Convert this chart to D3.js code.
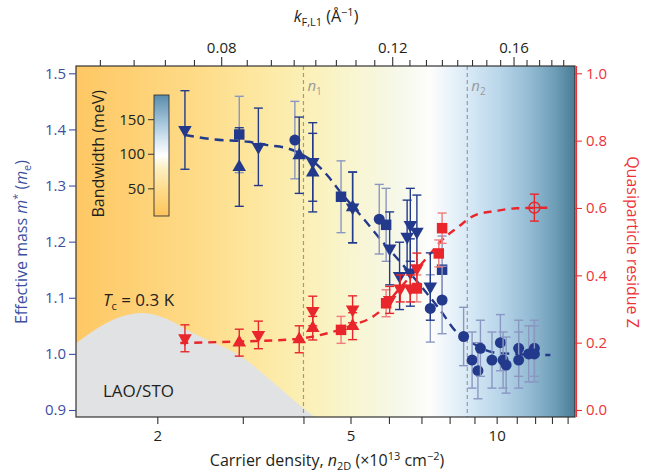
<!DOCTYPE html>
<html>
<head>
<meta charset="utf-8">
<script src="https://cdn.jsdelivr.net/npm/d3@7"></script>
<style>
  body { margin: 0; background: #fff; }
  svg { font-family: "Open Sans", sans-serif; }
</style>
</head>
<body>
<svg id="chart" width="650" height="472"></svg>
<script>
'use strict';
(function() {

    // ---- data ----
    // effective mass points: [n2D (1e13 cm^-2), m* (me), error]
    var massDown = [[2.28, 1.399, 0.07], [3.23, 1.369, 0.069], [4.18, 1.342, 0.07], [5.05, 1.261, 0.063],
        [6.02, 1.188, 0.065], [6.54, 1.209, 0.065], [6.64, 1.230, 0.065], [6.85, 1.218, 0.065],
        [6.31, 1.139, 0.06], [6.64, 1.145, 0.06], [7.30, 1.120, 0.06]];
    var massUp = [[2.95, 1.333, 0.07], [3.92, 1.354, 0.068], [4.18, 1.323, 0.07], [5.05, 1.261, 0.063]];
    var massSquare = [[2.95, 1.391, 0.068], [4.78, 1.280, 0.064], [5.92, 1.230, 0.065], [7.72, 1.150, 0.06]];
    var massCircle = [[3.84, 1.381, 0.069], [5.73, 1.240, 0.062], [7.30, 1.081, 0.06], [7.72, 1.096, 0.06],
        [8.55, 1.031, 0.052], [8.90, 0.989, 0.05], [9.15, 0.970, 0.05], [9.26, 1.010, 0.05],
        [9.78, 0.989, 0.05], [10.18, 1.020, 0.05], [10.31, 0.989, 0.05], [10.46, 0.980, 0.05],
        [11.10, 1.010, 0.05], [11.10, 0.989, 0.05], [11.64, 1.000, 0.05], [11.96, 1.010, 0.05],
        [11.96, 1.000, 0.05]];

    // quasiparticle residue points: [n2D, Z, error]
    var zDown = [[2.28, 0.213, 0.04], [3.23, 0.223, 0.041], [4.18, 0.294, 0.044], [5.05, 0.299, 0.04],
        [6.02, 0.327, 0.04], [6.33, 0.361, 0.04], [6.64, 0.361, 0.04], [6.85, 0.421, 0.045]];
    var zUp = [[2.95, 0.200, 0.04], [3.92, 0.210, 0.04], [4.18, 0.243, 0.035], [5.05, 0.249, 0.04]];
    var zSquare = [[4.78, 0.238, 0.04], [5.92, 0.317, 0.04], [6.85, 0.361, 0.04], [7.60, 0.465, 0.04],
        [7.72, 0.540, 0.045]];
    var zOpen = [[11.96, 0.601, 0.04]];

    // dashed guide curves
    var massFitN = [2.28, 2.63, 3.08, 3.37, 3.72, 4.0, 4.27, 4.50, 4.76, 5.28, 5.78, 6.33, 6.95, 7.65, 8.26, 8.96, 9.81, 10.78, 12.9];
    var massFitM = [1.390, 1.382, 1.378, 1.372, 1.366, 1.354, 1.337, 1.316, 1.289, 1.244, 1.203, 1.164, 1.123, 1.078, 1.039, 1.018, 1.003, 1.000, 0.998];
    var zFitN = [2.23, 2.87, 3.81, 4.48, 4.99, 5.68, 6.33, 7.23, 7.72, 8.29, 9.04, 9.95, 10.98, 13.0];
    var zFitZ = [0.199, 0.203, 0.210, 0.228, 0.249, 0.287, 0.363, 0.457, 0.505, 0.541, 0.579, 0.591, 0.599, 0.601];

    // superconducting dome outline (n2D, in left-axis units)
    var domeN = [1.36, 1.52, 1.68, 1.87, 2.07, 2.37, 3.0, 3.5, 4.0, 4.23];
    var domeM = [1.019, 1.048, 1.066, 1.073, 1.064, 1.037, 0.993, 0.946, 0.903, 0.887];

    // critical densities
    var nLines = [{ n: 4.0, sub: '1' }, { n: 8.7, sub: '2' }];

    // ticks
    var nTicks = [2, 3, 4, 5, 6, 7, 8, 9, 10, 11, 12, 13, 14];
    var nLabels = [2, 5, 10];
    var kTicks = d3.range(0.060, 0.1801, 0.005);
    var kLabels = [0.08, 0.12, 0.16];
    var massTicks = [0.9, 1.0, 1.1, 1.2, 1.3, 1.4, 1.5];
    var zTicks = [0, 0.2, 0.4, 0.6, 0.8, 1.0];
    var bwTicks = [50, 100, 150];

    // ---- layout ----
    var L = 76, R = 575, T = 66, B = 417;
    var blue = '#233a8c', blueLight = '#8a97c2', red = '#e8262b', redLight = '#f07b7b';
    var svg = d3.select('#chart');

    var x = d3.scaleLog().domain([1.36, 14.5]).range([L, R]);
    // n2D ~ kF^2, so a log scale in kF lines up with the log scale in n2D
    var xk = d3.scaleLog().domain([0.0567, 0.1851]).range([L, R]);
    var yM = d3.scaleLinear().domain([0.9, 1.5]).range([410, 73.3]);
    var yZ = d3.scaleLinear().domain([0, 1]).range([410, 73.3]);
    var yBw = d3.scaleLinear().domain([10, 185]).range([216, 95]);

    var defs = svg.append('defs');
    var bgStops = [[0, '#fec864'], [0.1, '#fecf72'], [0.25, '#fedc89'], [0.37, '#fde8a2'],
        [0.46, '#fbf0b6'], [0.55, '#f8f5cf'], [0.65, '#f6f8ea'], [0.71, '#fdfdfb'],
        [0.75, '#eaf3fa'], [0.79, '#d6e8f5'], [0.85, '#b8d5e9'], [0.91, '#93bbd3'],
        [0.96, '#6d9db7'], [1, '#4a7c94']];
    var bg = defs.append('linearGradient').attr('id', 'bg')
        .attr('x1', 0).attr('x2', 1).attr('y1', 0).attr('y2', 0);
    bgStops.forEach(function(s) {
        bg.append('stop').attr('offset', s[0]).attr('stop-color', s[1]);
    });
    var cbStops = [[0, '#fec35c'], [0.2, '#fed986'], [0.4, '#fdf0c3'], [0.5, '#ffffff'],
        [0.62, '#d9e8f2'], [0.78, '#a2c4d9'], [1, '#5a8bab']];
    var cb = defs.append('linearGradient').attr('id', 'cb')
        .attr('x1', 0).attr('x2', 0).attr('y1', 1).attr('y2', 0);
    cbStops.forEach(function(s) {
        cb.append('stop').attr('offset', s[0]).attr('stop-color', s[1]);
    });
    defs.append('clipPath').attr('id', 'clip').append('rect')
        .attr('x', L).attr('y', T).attr('width', R - L).attr('height', B - T);

    // background
    svg.append('rect').attr('x', L).attr('y', T).attr('width', R - L).attr('height', B - T)
        .attr('fill', 'url(#bg)');

    var plot = svg.append('g').attr('clip-path', 'url(#clip)');

    // dome
    var dome = d3.area()
        .x(function(d) { return x(d[0]); })
        .y0(B)
        .y1(function(d) { return yM(d[1]); })
        .curve(d3.curveMonotoneX);
    plot.append('path')
        .datum(domeN.map(function(n, i) { return [n, domeM[i]]; }))
        .attr('d', dome)
        .attr('fill', '#e1e2e4');

    // n1, n2
    nLines.forEach(function(d) {
        plot.append('line')
            .attr('x1', x(d.n)).attr('x2', x(d.n)).attr('y1', T).attr('y2', B)
            .attr('stroke', '#9a9a9a').attr('stroke-width', 1.2).attr('stroke-dasharray', '4,3');
        var t = svg.append('text').attr('x', x(d.n) + 4).attr('y', 91)
            .attr('fill', '#9a9a9a').style('font-size', '15px');
        t.append('tspan').attr('font-style', 'italic').text('n');
        t.append('tspan').attr('dy', 4).style('font-size', '10px').text(d.sub);
    });

    // guide curves
    var fitLine = function(ys) {
        return d3.line()
            .x(function(d) { return x(d[0]); })
            .y(function(d) { return ys(d[1]); })
            .curve(d3.curveMonotoneX);
    };
    plot.append('path')
        .datum(massFitN.map(function(n, i) { return [n, massFitM[i]]; }))
        .attr('d', fitLine(yM))
        .attr('fill', 'none').attr('stroke', blue).attr('stroke-width', 2.4)
        .attr('stroke-dasharray', '9,6');
    plot.append('path')
        .datum(zFitN.map(function(n, i) { return [n, zFitZ[i]]; }))
        .attr('d', fitLine(yZ))
        .attr('fill', 'none').attr('stroke', red).attr('stroke-width', 2.4)
        .attr('stroke-dasharray', '8,6');

    // points with error bars
    function drawSeries(data, ys, shape, color, barColor) {
        var g = plot.append('g');
        var pts = g.selectAll('g').data(data).enter().append('g');
        pts.append('line')
            .attr('x1', function(d) { return x(d[0]); })
            .attr('x2', function(d) { return x(d[0]); })
            .attr('y1', function(d) { return ys(d[1] - d[2]); })
            .attr('y2', function(d) { return ys(d[1] + d[2]); })
            .attr('stroke', barColor).attr('stroke-width', 1.4);
        [-1, 1].forEach(function(s) {
            pts.append('line')
                .attr('x1', function(d) { return x(d[0]) - 4.5; })
                .attr('x2', function(d) { return x(d[0]) + 4.5; })
                .attr('y1', function(d) { return ys(d[1] + s * d[2]); })
                .attr('y2', function(d) { return ys(d[1] + s * d[2]); })
                .attr('stroke', barColor).attr('stroke-width', 1.4);
        });
        if (shape === 'open') {
            pts.append('circle')
                .attr('cx', function(d) { return x(d[0]); })
                .attr('cy', function(d) { return ys(d[1]); })
                .attr('r', 5.5).attr('fill', 'none').attr('stroke', color).attr('stroke-width', 1.5);
            pts.append('line')
                .attr('x1', function(d) { return x(d[0]) - 5.5; })
                .attr('x2', function(d) { return x(d[0]) + 5.5; })
                .attr('y1', function(d) { return ys(d[1]); })
                .attr('y2', function(d) { return ys(d[1]); })
                .attr('stroke', color).attr('stroke-width', 1.5);
            return;
        }
        var sym = d3.symbol()
            .type(shape === 'square' ? d3.symbolSquare : shape === 'circle' ? d3.symbolCircle : d3.symbolTriangle)
            .size(shape === 'square' ? 110 : shape === 'circle' ? 95 : 80);
        pts.append('path')
            .attr('d', sym)
            .attr('transform', function(d) {
                return 'translate(' + x(d[0]) + ',' + ys(d[1]) + ')' + (shape === 'down' ? ' rotate(180)' : '');
            })
            .attr('fill', color);
    }

    drawSeries(massSquare, yM, 'square', blue, blueLight);
    drawSeries(massCircle, yM, 'circle', blue, blueLight);
    drawSeries(massUp, yM, 'up', blue, blue);
    drawSeries(massDown, yM, 'down', blue, blue);
    drawSeries(zSquare, yZ, 'square', red, redLight);
    drawSeries(zUp, yZ, 'up', red, red);
    drawSeries(zDown, yZ, 'down', red, red);
    drawSeries(zOpen, yZ, 'open', red, red);

    // labels inside plot
    var tc = svg.append('text').attr('x', 103).attr('y', 306).attr('fill', '#231f20')
        .style('font-size', '17px');
    tc.append('tspan').attr('font-style', 'italic').text('T');
    tc.append('tspan').attr('dy', 4).style('font-size', '11px').text('c');
    tc.append('tspan').attr('dy', -4).text(' = 0.3 K');
    svg.append('text').attr('x', 103).attr('y', 397).attr('fill', '#231f20')
        .style('font-size', '17px').text('LAO/STO');

    // colour bar
    svg.append('rect').attr('x', 154).attr('y', yBw(185)).attr('width', 15)
        .attr('height', yBw(10) - yBw(185))
        .attr('fill', 'url(#cb)').attr('stroke', '#333').attr('stroke-width', 0.9);
    var bwAxis = svg.append('g').attr('transform', 'translate(154,0)')
        .call(d3.axisLeft(yBw).tickValues(bwTicks).tickSize(6).tickPadding(3));
    bwAxis.select('.domain').remove();
    bwAxis.selectAll('line').attr('stroke', '#333');
    bwAxis.selectAll('text').attr('fill', '#231f20').style('font-size', '15px')
        .style('font-family', '"Open Sans", sans-serif');
    svg.append('text')
        .attr('transform', 'translate(104,' + yBw(100) + ') rotate(-90)')
        .attr('text-anchor', 'middle').attr('fill', '#231f20').style('font-size', '16px')
        .text('Bandwidth (meV)');

    // frame
    svg.append('rect').attr('x', L).attr('y', T).attr('width', R - L).attr('height', B - T)
        .attr('fill', 'none').attr('stroke', '#333').attr('stroke-width', 1.2);

    function styleAxis(g, color) {
        g.select('.domain').remove();
        g.selectAll('line').attr('stroke', color).attr('stroke-width', 1.1);
        g.selectAll('text').attr('fill', color).style('font-size', '15px')
            .style('font-family', '"Open Sans", sans-serif');
    }

    // bottom axis
    var bottom = svg.append('g').attr('transform', 'translate(0,' + B + ')')
        .call(d3.axisBottom(x).tickValues(nTicks).tickSize(7).tickPadding(6)
            .tickFormat(function(d) { return nLabels.indexOf(d) >= 0 ? d : ''; }));
    styleAxis(bottom, '#333');
    bottom.selectAll('text').attr('fill', '#231f20');

    // top axis
    var top = svg.append('g').attr('transform', 'translate(0,' + T + ')')
        .call(d3.axisTop(xk).tickValues(kTicks).tickSize(6).tickPadding(6)
            .tickFormat(function(d) {
                return kLabels.some(function(k) { return Math.abs(k - d) < 1e-6; }) ? d3.format('.2f')(d) : '';
            }));
    styleAxis(top, '#333');
    top.selectAll('text').attr('fill', '#231f20').attr('dy', '-0.1em');
    top.selectAll('.tick').filter(function(d) {
        return kLabels.some(function(k) { return Math.abs(k - d) < 1e-6; });
    }).select('line').attr('y2', -9);

    // left axis
    var left = svg.append('g').attr('transform', 'translate(' + L + ',0)')
        .call(d3.axisLeft(yM).tickValues(massTicks).tickSize(7).tickPadding(3).tickFormat(d3.format('.1f')));
    styleAxis(left, '#3d4f9f');

    // right axis
    var right = svg.append('g').attr('transform', 'translate(' + R + ',0)')
        .call(d3.axisRight(yZ).tickValues(zTicks).tickSize(7).tickPadding(4).tickFormat(d3.format('.1f')));
    styleAxis(right, '#ee3338');
    right.append('line').attr('x1', 1.5).attr('x2', 1.5).attr('y1', T).attr('y2', B)
        .attr('stroke', '#ee3338').attr('stroke-width', 1.2);

    // axis titles
    var bt = svg.append('text').attr('x', 327).attr('y', 466).attr('text-anchor', 'middle')
        .attr('fill', '#231f20').style('font-size', '16px');
    bt.append('tspan').text('Carrier density, ');
    bt.append('tspan').attr('font-style', 'italic').text('n');
    bt.append('tspan').attr('dy', 4).style('font-size', '11px').text('2D');
    bt.append('tspan').attr('dy', -4).text(' (×10');
    bt.append('tspan').attr('dy', -6).style('font-size', '11px').text('13');
    bt.append('tspan').attr('dy', 6).text(' cm');
    bt.append('tspan').attr('dy', -6).style('font-size', '11px').text('−2');
    bt.append('tspan').attr('dy', 6).text(')');

    var tt = svg.append('text').attr('x', 326).attr('y', 22).attr('text-anchor', 'middle')
        .attr('fill', '#231f20').style('font-size', '16px');
    tt.append('tspan').attr('font-style', 'italic').text('k');
    tt.append('tspan').attr('dy', 4).style('font-size', '11px').text('F,L1');
    tt.append('tspan').attr('dy', -4).text(' (Å');
    tt.append('tspan').attr('dy', -6).style('font-size', '11px').text('−1');
    tt.append('tspan').attr('dy', 6).text(')');

    var lt = svg.append('text').attr('transform', 'translate(27,242) rotate(-90)')
        .attr('text-anchor', 'middle').attr('fill', '#3d4f9f').style('font-size', '16px');
    lt.append('tspan').text('Effective mass ');
    lt.append('tspan').attr('font-style', 'italic').text('m');
    lt.append('tspan').attr('dy', -6).style('font-size', '11px').text('*');
    lt.append('tspan').attr('dy', 6).text(' (');
    lt.append('tspan').attr('font-style', 'italic').text('m');
    lt.append('tspan').attr('dy', 4).style('font-size', '11px').text('e');
    lt.append('tspan').attr('dy', -4).text(')');

    svg.append('text').attr('transform', 'translate(627,242) rotate(90)')
        .attr('text-anchor', 'middle').attr('fill', '#ee3338').style('font-size', '16px')
        .text('Quasiparticle residue Z');

})();
</script>
</body>
</html>
